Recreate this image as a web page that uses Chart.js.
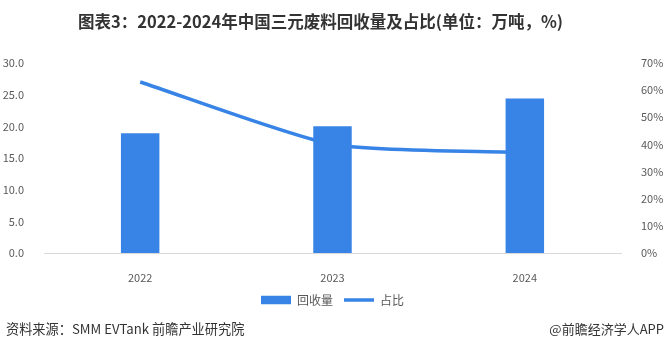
<!DOCTYPE html>
<html><head><meta charset="utf-8">
<script src="https://cdn.jsdelivr.net/npm/chart.js@4/dist/chart.umd.min.js"></script>
<style>
html,body{margin:0;padding:0;background:#fff;}
#wrap{position:relative;width:665px;height:351px;overflow:hidden;font-family:"Noto Sans CJK SC","Noto Sans",sans-serif;}
#title{position:absolute;left:0;width:641px;top:10px;text-align:center;font-size:16.5px;font-weight:bold;color:#333;line-height:22px;white-space:nowrap;}
#src{position:absolute;left:6px;top:320px;font-size:13.2px;color:#333;line-height:18px;white-space:nowrap;}
#brand{position:absolute;right:1px;top:320px;font-size:13px;color:#333;line-height:18px;white-space:nowrap;}
canvas{position:absolute;left:0;top:0;}
</style></head>
<body><div id="wrap">
<canvas id="c" width="665" height="351"></canvas>
<div id="title">图表3：2022-2024年中国三元废料回收量及占比(单位：万吨，%)</div>
<div id="src">资料来源：SMM EVTank 前瞻产业研究院</div>
<div id="brand">@前瞻经济学人APP</div>
</div>
<script>
const categories = ["2022", "2023", "2024"];
const recoveryVolume = [18.9, 20.0, 24.4];
const sharePct = [63, 40, 37];
const leftTicks = [0, 5, 10, 15, 20, 25, 30];
const rightTicks = [0, 10, 20, 30, 40, 50, 60, 70];
const seriesNames = ["回收量", "占比"];

const blue = "#3784E6";
const tickColor = "#595959";
const font = "'Noto Sans CJK SC','Noto Sans',sans-serif";

new Chart(document.getElementById("c"), {
  data: {
    labels: categories,
    datasets: [
      { type: "line", label: seriesNames[1], data: sharePct, yAxisID: "y1",
        borderColor: blue, backgroundColor: blue, borderWidth: 3.5, pointRadius: 0,
        tension: 0.2, order: 0, pointStyle: "line" },
      { type: "bar", label: seriesNames[0], data: recoveryVolume, yAxisID: "y",
        backgroundColor: blue, barPercentage: 0.2, categoryPercentage: 1.0, order: 1, pointStyle: "rect" }
    ]
  },
  options: {
    responsive: false,
    animation: false,
    layout: { padding: { top: 63, left: 0, right: 0, bottom: 35 } },
    plugins: {
      legend: {
        position: "bottom",
        reverse: true,
        labels: {
          usePointStyle: true, pointStyleWidth: 30, boxHeight: 8.5,
          color: tickColor, font: { family: font, size: 12 }, padding: 11
        }
      },
      tooltip: { enabled: false }
    },
    scales: {
      x: {
        grid: { display: false },
        border: { display: true, color: "#d9d9d9", width: 1 },
        ticks: { color: tickColor, font: { family: font, size: 11 }, padding: 10 },
        afterFit: s => { s.height = 30; }
      },
      y: {
        position: "left", min: 0, max: 30,
        afterBuildTicks: s => { s.ticks = leftTicks.map(v => ({ value: v })); },
        grid: { display: false }, border: { display: false },
        ticks: { color: tickColor, font: { family: font, size: 11 }, padding: 12,
          callback: v => Number(v).toFixed(1) },
        afterFit: s => { s.width = 44; }
      },
      y1: {
        position: "right", min: 0, max: 70,
        afterBuildTicks: s => { s.ticks = rightTicks.map(v => ({ value: v })); },
        grid: { display: false }, border: { display: false },
        ticks: { color: tickColor, font: { family: font, size: 11 }, padding: 12,
          callback: v => v + "%" },
        afterFit: s => { s.width = 44; }
      }
    }
  }
});
</script>
</body></html>
